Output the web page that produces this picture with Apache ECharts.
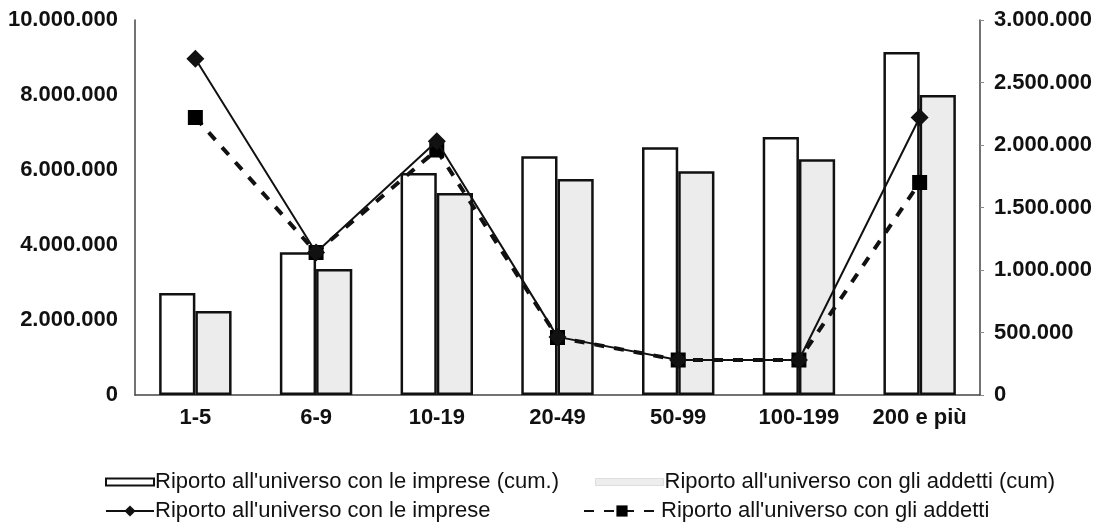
<!DOCTYPE html>
<html>
<head>
<meta charset="utf-8">
<script src="https://cdn.jsdelivr.net/npm/echarts@6/dist/echarts.min.js"></script>
<style>
html,body{margin:0;padding:0;background:#fff;}
#c{width:1104px;height:523px;}
</style>
</head>
<body>
<div id="c"></div>
<script>
const categories = ['1-5', '6-9', '10-19', '20-49', '50-99', '100-199', '200 e più'];
const impreseCum = [2720000, 3810000, 5920000, 6370000, 6610000, 6880000, 9150000];
const addettiCum = [2240000, 3360000, 5390000, 5760000, 5970000, 6290000, 8000000];
const imprese = [2690000, 1140000, 2030000, 465000, 280000, 280000, 2220000];
const addetti = [2220000, 1140000, 1960000, 460000, 280000, 280000, 1700000];
const seriesNames = [
  "Riporto all'universo con le imprese (cum.)",
  "Riporto all'universo con gli addetti (cum)",
  "Riporto all'universo con le imprese",
  "Riporto all'universo con gli addetti"
];

function fmt(v){ return String(Math.round(v)).replace(/\B(?=(\d{3})+(?!\d))/g, '.'); }

const FONT = '"Liberation Sans", Arial, sans-serif';
const axisColor = '#444';
const chart = echarts.init(document.getElementById('c'), null, {renderer: 'canvas'});
const legendText = {fontFamily: FONT, fontSize: 22, color: '#111', padding: [0, 0, 0, -4]};
chart.setOption({
  animation: false,
  backgroundColor: '#fff',
  grid: {left: 135, right: 124, top: 20, bottom: 128, containLabel: false},
  legend: [
    {data: [seriesNames[0]], left: 100, top: 466, itemWidth: 48, itemHeight: 7, icon: 'rect', textStyle: legendText},
    {data: [seriesNames[1]], left: 590, top: 466, itemWidth: 68, itemHeight: 7, icon: 'rect', textStyle: legendText,
      itemStyle: {color: '#eeeeee', borderColor: '#dddddd', borderWidth: 1}},
    {data: [seriesNames[2]], left: 100, top: 495, itemWidth: 48, itemHeight: 14, textStyle: legendText},
    {data: [seriesNames[3]], left: 578, top: 495, itemWidth: 76, itemHeight: 14, textStyle: legendText}
  ],
  xAxis: {
    type: 'category', data: categories,
    axisLine: {lineStyle: {color: axisColor, width: 1.5}},
    axisTick: {show: false},
    axisLabel: {interval: 0, fontFamily: FONT, fontSize: 22, fontWeight: 'bold', color: '#111', margin: 12}
  },
  yAxis: [
    {type: 'value', min: 0, max: 10000000, interval: 2000000,
      axisLine: {show: true, lineStyle: {color: axisColor, width: 1.5}},
      axisTick: {show: false}, splitLine: {show: false},
      axisLabel: {fontFamily: FONT, fontSize: 22, fontWeight: 'bold', color: '#111', margin: 17, formatter: fmt}},
    {type: 'value', min: 0, max: 3000000, interval: 500000, position: 'right',
      axisLine: {show: true, lineStyle: {color: axisColor, width: 1.5}},
      axisTick: {show: true, inside: false, length: 4, lineStyle: {color: '#888'}}, splitLine: {show: false},
      axisLabel: {fontFamily: FONT, fontSize: 22, fontWeight: 'bold', color: '#111', margin: 14, formatter: fmt}}
  ],
  series: [
    {name: seriesNames[0], type: 'bar', yAxisIndex: 0, data: impreseCum, barWidth: '30%', barGap: '0%',
      itemStyle: {color: '#ffffff', borderColor: '#111', borderWidth: 2.5}},
    {name: seriesNames[1], type: 'bar', yAxisIndex: 0, data: addettiCum, barWidth: '30%', barGap: '0%',
      itemStyle: {color: '#ececec', borderColor: '#111', borderWidth: 2.5}},
    {name: seriesNames[3], type: 'line', yAxisIndex: 1, data: addetti, symbol: 'rect', symbolSize: 15,
      itemStyle: {color: '#000'}, lineStyle: {color: '#111', width: 4, type: [10, 10]}, z: 3},
    {name: seriesNames[2], type: 'line', yAxisIndex: 1, data: imprese, symbol: 'diamond', symbolSize: 18,
      itemStyle: {color: '#111'}, lineStyle: {color: '#111', width: 2}, z: 4}
  ]
});
</script>
</body>
</html>
